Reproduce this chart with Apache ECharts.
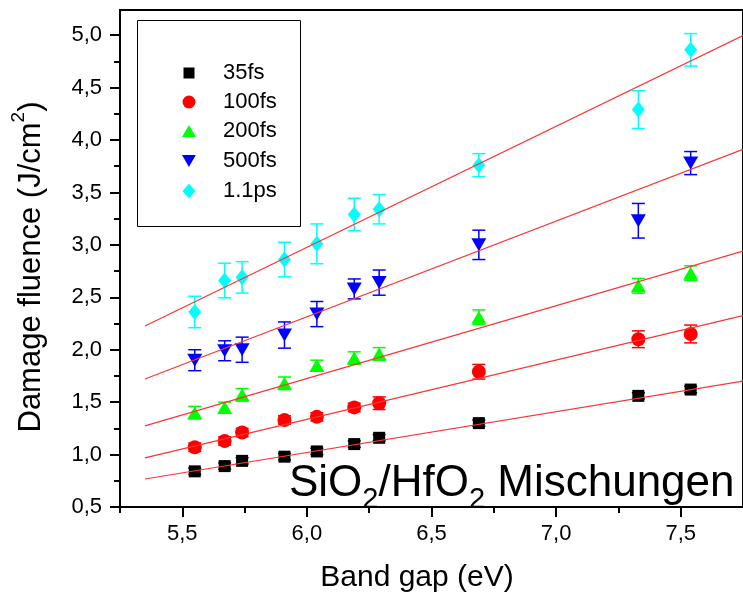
<!DOCTYPE html>
<html>
<head>
<meta charset="utf-8">
<script src="https://cdn.jsdelivr.net/npm/echarts@6/dist/echarts.min.js"></script>
<style>html,body{margin:0;padding:0;background:#fff}#c{width:743px;height:597px}</style>
</head>
<body>
<div id="c"></div>
<script>
// ---- data ----
const bandGap = [5.55, 5.67, 5.74, 5.91, 6.04, 6.19, 6.29, 6.69, 7.33, 7.54];

const fs35  = [0.84, 0.89, 0.94, 0.98, 1.03, 1.10, 1.16, 1.30, 1.56, 1.62];
const err35 = [0.03, 0.03, 0.03, 0.03, 0.03, 0.03, 0.03, 0.03, 0.03, 0.03];

const fs100  = [1.07, 1.13, 1.21, 1.33, 1.36, 1.45, 1.49, 1.79, 2.10, 2.15];
const err100 = [0.04, 0.04, 0.04, 0.04, 0.04, 0.04, 0.06, 0.07, 0.08, 0.085];

const fs200  = [1.40, 1.45, 1.57, 1.68, 1.85, 1.92, 1.96, 2.31, 2.61, 2.73];
const err200 = [0.06, 0.05, 0.06, 0.06, 0.05, 0.06, 0.06, 0.07, 0.07, 0.07];

const fs500  = [1.90, 1.99, 2.00, 2.14, 2.34, 2.58, 2.64, 3.00, 3.23, 3.78];
const err500 = [0.10, 0.095, 0.12, 0.125, 0.12, 0.095, 0.12, 0.14, 0.165, 0.11];

const ps11  = [2.36, 2.66, 2.69, 2.86, 3.01, 3.29, 3.34, 3.76, 4.29, 4.86];
const err11 = [0.15, 0.165, 0.15, 0.165, 0.19, 0.155, 0.14, 0.11, 0.18, 0.155];

// linear fits (end points)
const fitX   = [5.35, 7.75];
const fit35  = [0.767, 1.701];
const fit100 = [0.968, 2.326];
const fit200 = [1.273, 2.941];
const fit500 = [1.721, 3.912];
const fit11  = [2.226, 4.996];

const seriesNames = ['35fs', '100fs', '200fs', '500fs', '1.1ps'];

const xMajor = [5.5, 6.0, 6.5, 7.0, 7.5];
const xMinor = [5.25, 5.75, 6.25, 6.75, 7.25];
const yMajor = [0.5, 1.0, 1.5, 2.0, 2.5, 3.0, 3.5, 4.0, 4.5, 5.0];
const yMinor = [0.75, 1.25, 1.75, 2.25, 2.75, 3.25, 3.75, 4.25, 4.75];

// ---- styling ----
const FONT = '"Liberation Sans", Arial, sans-serif';
const colors = ['#000000', '#ff0000', '#00ff00', '#0000ff', '#00ffff'];
const downTri = 'path://M0,0L2,0L1,1.732Z';
const symbols = ['rect', 'circle', 'triangle', downTri, 'diamond'];
const symSizes = [[12, 12], [14, 14], [15, 13], [15, 13], [13, 16]];
const legSizes = [[11, 11], [13, 13], [14, 12], [14, 12], [13, 15]];
const legRows = [72, 101, 130, 160, 190];
const values = [fs35, fs100, fs200, fs500, ps11];
const errs = [err35, err100, err200, err500, err11];
const fits = [fit35, fit100, fit200, fit500, fit11];

const fmt = v => v.toFixed(1).replace('.', ',');

const series = [];
seriesNames.forEach((name, i) => {
  // error bars
  series.push({
    type: 'custom',
    name: name + '_err',
    xAxisIndex: 0, yAxisIndex: 0,
    z: 2,
    silent: true,
    data: bandGap.map((x, k) => [x, values[i][k] - errs[i][k], values[i][k] + errs[i][k]]),
    encode: { x: 0, y: [1, 2] },
    renderItem: (params, api) => {
      const x = api.value(0);
      const lo = api.coord([x, api.value(1)]);
      const hi = api.coord([x, api.value(2)]);
      const hw = 6.5;
      const st = { stroke: colors[i], lineWidth: 1.5 };
      return {
        type: 'group',
        children: [
          { type: 'line', shape: { x1: lo[0], y1: lo[1], x2: hi[0], y2: hi[1] }, style: st },
          { type: 'line', shape: { x1: lo[0] - hw, y1: lo[1], x2: lo[0] + hw, y2: lo[1] }, style: st },
          { type: 'line', shape: { x1: hi[0] - hw, y1: hi[1], x2: hi[0] + hw, y2: hi[1] }, style: st }
        ]
      };
    }
  });
  // markers
  series.push({
    type: 'scatter',
    name: name,
    xAxisIndex: 0, yAxisIndex: 0,
    z: 3,
    symbol: symbols[i],
    symbolSize: symSizes[i],
    itemStyle: { color: colors[i], opacity: 1 },
    data: bandGap.map((x, k) => [x, values[i][k]])
  });
  // fit line
  series.push({
    type: 'line',
    name: name + '_fit',
    xAxisIndex: 0, yAxisIndex: 0,
    z: 4,
    symbol: 'none',
    silent: true,
    lineStyle: { color: '#ff3333', width: 1.2 },
    data: fitX.map((x, k) => [x, fits[i][k]])
  });
});

const legends = seriesNames.map((name, i) => ({
  data: [name],
  orient: 'vertical',
  left: 189 - legSizes[i][0] / 2,
  top: legRows[i] - 10,
  itemWidth: legSizes[i][0],
  itemHeight: legSizes[i][1],
  padding: 0,
  selectedMode: false,
  z: 6,
  textStyle: {
    fontSize: 22, lineHeight: 20, color: '#000', fontFamily: FONT,
    padding: [0, 0, 0, 29 - legSizes[i][0] / 2]
  }
}));

const axisTextStyle = { fontSize: 22, color: '#000', fontFamily: FONT };

const option = {
  animation: false,
  backgroundColor: '#fff',
  grid: {
    left: 120, top: 10, right: -7, bottom: 90,
    show: true, borderColor: '#000', borderWidth: 2, backgroundColor: 'transparent'
  },
  legend: legends,
  xAxis: [
    {
      type: 'value', min: 5.25, max: 7.75, position: 'bottom',
      axisLine: { show: true, onZero: false, lineStyle: { color: '#000', width: 2 } },
      axisTick: { show: true, customValues: xMajor, length: 10, inside: false, lineStyle: { color: '#000', width: 2 } },
      axisLabel: { show: true, customValues: xMajor, formatter: fmt, margin: 16, ...axisTextStyle },
      splitLine: { show: false }
    },
    {
      type: 'value', min: 5.25, max: 7.75, position: 'bottom',
      axisLine: { show: false },
      axisTick: { show: true, customValues: xMinor, length: 6, inside: false, lineStyle: { color: '#000', width: 2 } },
      axisLabel: { show: false },
      splitLine: { show: false }
    }
  ],
  yAxis: [
    {
      type: 'value', min: 0.5, max: 5.24, position: 'left',
      axisLine: { show: true, onZero: false, lineStyle: { color: '#000', width: 2 } },
      axisTick: { show: true, customValues: yMajor, length: 10, inside: false, lineStyle: { color: '#000', width: 2 } },
      axisLabel: { show: true, customValues: yMajor, formatter: fmt, margin: 18, ...axisTextStyle },
      splitLine: { show: false }
    },
    {
      type: 'value', min: 0.5, max: 5.24, position: 'left', offset: 0,
      axisLine: { show: false },
      axisTick: { show: true, customValues: yMinor, length: 6, inside: false, lineStyle: { color: '#000', width: 2 } },
      axisLabel: { show: false },
      splitLine: { show: false }
    }
  ],
  graphic: [
    {
      type: 'rect', z: 5,
      shape: { x: 137.5, y: 20.5, width: 163, height: 206 },
      style: { fill: '#fff', stroke: '#000', lineWidth: 1 }
    },
    {
      type: 'text', z: 10,
      x: 417, y: 563,
      style: {
        text: 'Band gap (eV)', font: '30px ' + FONT, fill: '#000',
        textAlign: 'center', textVerticalAlign: 'top'
      }
    },
    {
      type: 'text', z: 10,
      x: 31, y: 267, rotation: Math.PI / 2,
      style: {
        text: '{a|Damage fluence (J/cm}{s|2}{a|)}',
        fill: '#000', align: 'center', verticalAlign: 'middle',
        rich: {
          a: { fontSize: 31, fontFamily: FONT, lineHeight: 44, fill: '#000' },
          s: { fontSize: 19, fontFamily: FONT, lineHeight: 19, verticalAlign: 'top', fill: '#000' }
        }
      }
    },
    {
      type: 'text', z: 10,
      x: 289, y: 454,
      style: {
        text: '{a|SiO}{s|2}{a|/HfO}{s|2}{a| Mischungen}',
        fill: '#000', align: 'left', verticalAlign: 'top',
        rich: {
          a: { fontSize: 44, fontFamily: FONT, lineHeight: 60, fill: '#000' },
          s: { fontSize: 29, fontFamily: FONT, lineHeight: 29, verticalAlign: 'bottom', fill: '#000' }
        }
      }
    }
  ],
  series: series
};

const chart = echarts.init(document.getElementById('c'), null, { renderer: 'canvas' });
chart.setOption(option);
</script>
</body>
</html>
